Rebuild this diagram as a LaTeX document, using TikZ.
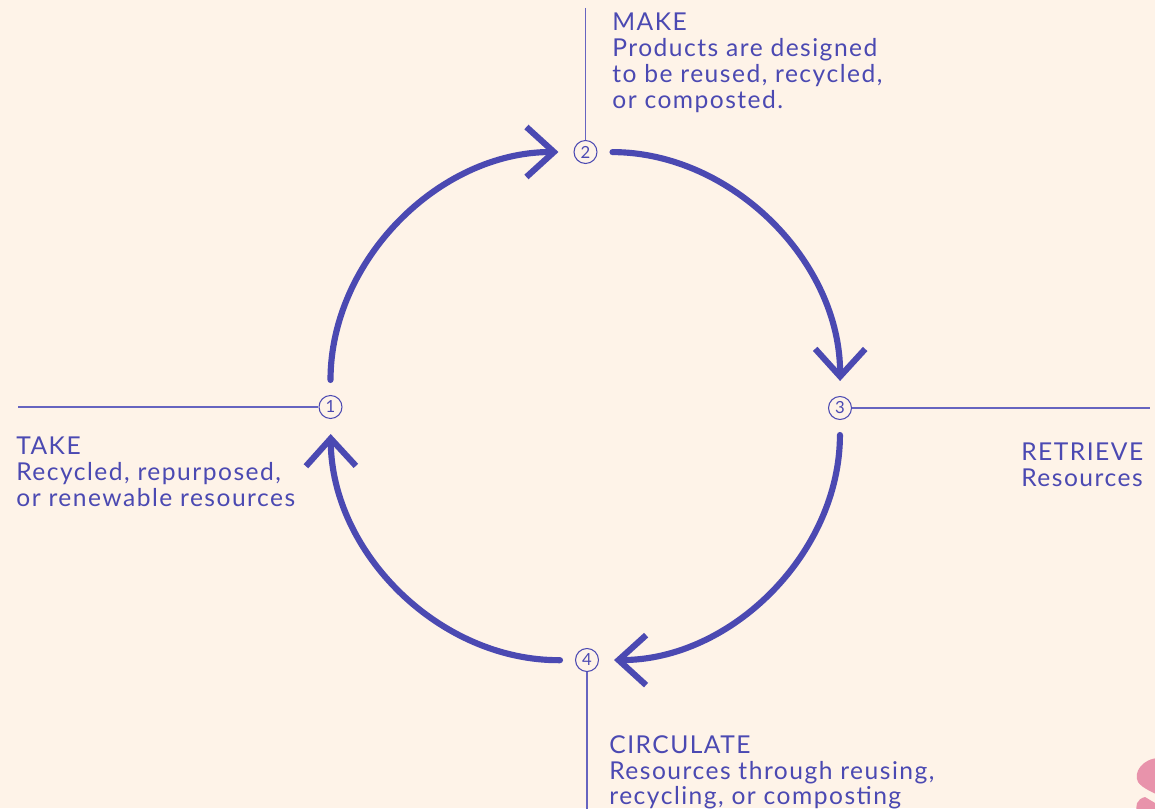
\documentclass[tikz,border=0pt]{standalone}
\usepackage{fontspec}
\setmainfont[LetterSpace=6]{Lato}
\usetikzlibrary{arrows.meta}
\definecolor{cream}{HTML}{FEF3E8}
\definecolor{ink}{HTML}{4B49B2}
\definecolor{rule}{HTML}{6664C0}
\definecolor{blush}{HTML}{E893AB}
\begin{document}
\begin{tikzpicture}[x=0.02cm, y=0.02cm,
  stage/.style={circle, draw=ink, line width=0.6pt, inner sep=0pt, minimum size=0.46cm, text=ink, font=\fontsize{9.5}{9.5}\selectfont},
  guide/.style={draw=rule, line width=0.7pt},
  flow/.style={draw=ink, line width=3.5pt, line cap=round, bend left=45, shorten <=0.3cm, shorten >=0.3cm, -{Straight Barb[length=0.55cm,width=1cm]}},
  caption/.style={anchor=north west, inner sep=0pt, align=left, text=ink, font=\fontsize{14}{14.7}\selectfont}]
\fill[cream] (0,0) rectangle (1155,808);
\useasboundingbox (0,0) rectangle (1155,808);
\node[stage] (n1) at (330.5,401) {1};
\node[stage] (n2) at (585.5,656) {2};
\node[stage] (n3) at (840,400) {3};
\node[stage] (n4) at (587,148) {4};
% guide lines out to the texts
\coordinate (w) at (18,401);
\coordinate (e) at (1150,400);
\coordinate (t) at (585.5,800);
\coordinate (b) at (587,-5);
\draw[guide] (w) -- (n1);
\draw[guide] (n3) -- (e);
\draw[guide] (t) -- (n2);
\draw[guide] (n4) -- (b);
% the cycle
\draw[flow] (n1) to (n2);
\draw[flow] (n2) to (n3);
\draw[flow] (n3) to (n4);
\draw[flow] (n4) to (n1);
\node[caption] (make) at (612,795) {MAKE\\Products are designed\\to be reused, recycled,\\or composted.};
\node[caption] (take) at (16,371) {TAKE\\Recycled, repurposed,\\or renewable resources};
\node[caption] (retrieve) at (1021,365) {RETRIEVE\\Resources};
\node[caption] (circulate) at (609,73) {CIRCULATE\\Resources through reusing,\\recycling, or composting};
% corner mark
\begin{scope}
\clip (0,0) rectangle (1155,808);
\fill[blush] (1160,50) .. controls (1142,50) and (1133,35) .. (1138,26) .. controls (1142,20) and (1152,16) .. (1160,12) -- cycle;
\fill[blush] (1160,2) -- (1145,11) .. controls (1137,9) and (1134,2) .. (1138,-5) -- (1160,-5) -- cycle;
\end{scope}
\end{tikzpicture}
\end{document}
